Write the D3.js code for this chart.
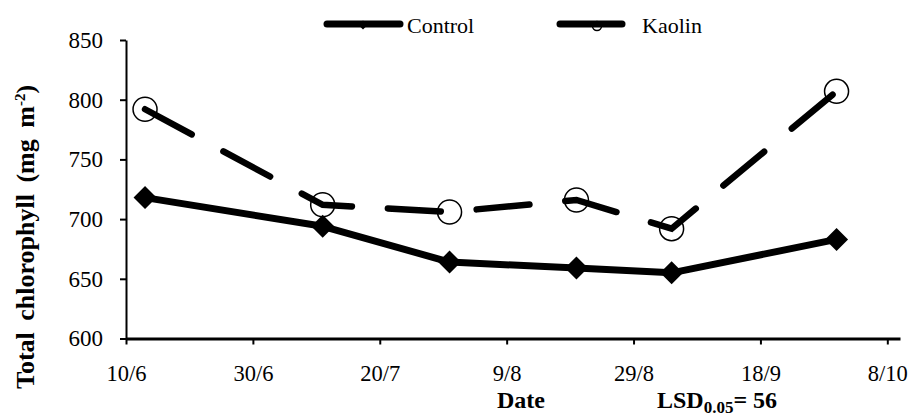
<!DOCTYPE html>
<html>
<head>
<meta charset="utf-8">
<script src="https://cdn.jsdelivr.net/npm/d3@7"></script>
<style>
  body { margin: 0; background: #fff; }
  text { font-family: "Liberation Serif", "Times New Roman", serif; fill: #000; }
</style>
</head>
<body>
<div id="chart"></div>
<script>
// data
const dates = ["2010-06-13", "2010-07-11", "2010-07-31", "2010-08-20", "2010-09-04", "2010-09-30"];
const control = [718, 694, 664, 659, 655, 683];
const kaolin = [792, 712, 706, 716, 692, 807];
const xTicks = ["2010-06-10", "2010-06-30", "2010-07-20", "2010-08-09", "2010-08-29", "2010-09-18", "2010-10-08"];
const yTicks = [600, 650, 700, 750, 800, 850];

const width = 914;
const height = 417;
const parse = d3.timeParse("%Y-%m-%d");

const svg = d3.select("#chart")
  .append("svg")
  .attr("width", width)
  .attr("height", height);

// scales
const xScale = d3.scaleTime()
  .domain([parse("2010-06-10"), parse("2010-10-10")])
  .range([126, 900]);

const yScale = d3.scaleLinear()
  .domain([600, 850])
  .range([338.5, 40]);

// axes
const xAxis = d3.axisBottom(xScale)
  .tickValues(xTicks.map(parse))
  .tickFormat(d3.timeFormat("%-d/%-m"))
  .tickSize(6)
  .tickSizeOuter(0);

const gx = svg.append("g")
  .attr("transform", "translate(0," + yScale(600) + ")")
  .call(xAxis)
  .attr("font-size", 22.5);
gx.select(".domain").attr("stroke-width", 3);
gx.selectAll(".tick line").attr("stroke-width", 2);
gx.selectAll(".tick text")
  .attr("y", 42.5)
  .attr("dy", 0);

const yAxis = d3.axisLeft(yScale)
  .tickValues(yTicks)
  .tickSize(6)
  .tickSizeOuter(0)
  .tickPadding(17);

const gy = svg.append("g")
  .attr("transform", "translate(" + xScale(parse("2010-06-10")) + ",0)")
  .call(yAxis)
  .attr("font-size", 23);
gy.select(".domain").attr("stroke-width", 2);
gy.selectAll(".tick line").attr("stroke-width", 2);

// Kaolin dashed line + hollow circles
const kaolinPts = dates.map((d, i) => [xScale(parse(d)), yScale(kaolin[i])]);
const controlPts = dates.map((d, i) => [xScale(parse(d)), yScale(control[i])]);
const line = d3.line();

svg.append("path")
  .attr("d", line(kaolinPts))
  .attr("fill", "none")
  .attr("stroke", "#000")
  .attr("stroke-width", 6.5)
  .attr("stroke-linecap", "round")
  .attr("stroke-dasharray", "53,36");

svg.selectAll(".kaolin-pt")
  .data(kaolinPts)
  .enter().append("circle")
  .attr("class", "kaolin-pt")
  .attr("cx", d => d[0])
  .attr("cy", d => d[1])
  .attr("r", 12)
  .attr("fill", "none")
  .attr("stroke", "#000")
  .attr("stroke-width", 1.5);

// Control solid line + diamonds
svg.append("path")
  .attr("d", line(controlPts))
  .attr("fill", "none")
  .attr("stroke", "#000")
  .attr("stroke-width", 7)
  .attr("stroke-linejoin", "round");

const diamond = (x, y, r) => "M" + x + "," + (y - r) + "L" + (x + r) + "," + y + "L" + x + "," + (y + r) + "L" + (x - r) + "," + y + "Z";

svg.selectAll(".control-pt")
  .data(controlPts)
  .enter().append("path")
  .attr("class", "control-pt")
  .attr("d", d => diamond(d[0], d[1], 11.5))
  .attr("fill", "#000");

// legend
svg.append("line")
  .attr("x1", 327).attr("x2", 400).attr("y1", 24).attr("y2", 24)
  .attr("stroke", "#000").attr("stroke-width", 7).attr("stroke-linecap", "round");
svg.append("path")
  .attr("d", diamond(363, 25, 4.5))
  .attr("fill", "#000");
svg.append("text")
  .attr("x", 407).attr("y", 33)
  .style("font-size", "22px")
  .text("Control");

svg.append("circle")
  .attr("cx", 597).attr("cy", 26).attr("r", 4.5)
  .attr("fill", "#fff").attr("stroke", "#000").attr("stroke-width", 1.5);
svg.append("line")
  .attr("x1", 560).attr("x2", 622).attr("y1", 24).attr("y2", 24)
  .attr("stroke", "#000").attr("stroke-width", 7).attr("stroke-linecap", "round");
svg.append("text")
  .attr("x", 642).attr("y", 33)
  .style("font-size", "22px")
  .text("Kaolin");

// y axis title
const yTitle = svg.append("text")
  .attr("transform", "translate(34,237) rotate(-90)")
  .attr("text-anchor", "middle")
  .style("font-size", "26px")
  .style("font-weight", "bold")
  .style("word-spacing", "5px");
yTitle.append("tspan").text("Total chlorophyll (mg m");
yTitle.append("tspan").attr("dy", -9).style("font-size", "15px").text("-2");
yTitle.append("tspan").attr("dy", 9).text(")");

// x axis title and LSD
svg.append("text")
  .attr("x", 521).attr("y", 408)
  .attr("text-anchor", "middle")
  .style("font-size", "24px")
  .style("font-weight", "bold")
  .text("Date");

const lsd = svg.append("text")
  .attr("x", 657).attr("y", 408)
  .style("font-size", "24px")
  .style("font-weight", "bold");
lsd.append("tspan").text("LSD");
lsd.append("tspan").attr("dy", 5).style("font-size", "17px").text("0.05");
lsd.append("tspan").attr("dy", -5).text("= 56");
</script>
</body>
</html>
